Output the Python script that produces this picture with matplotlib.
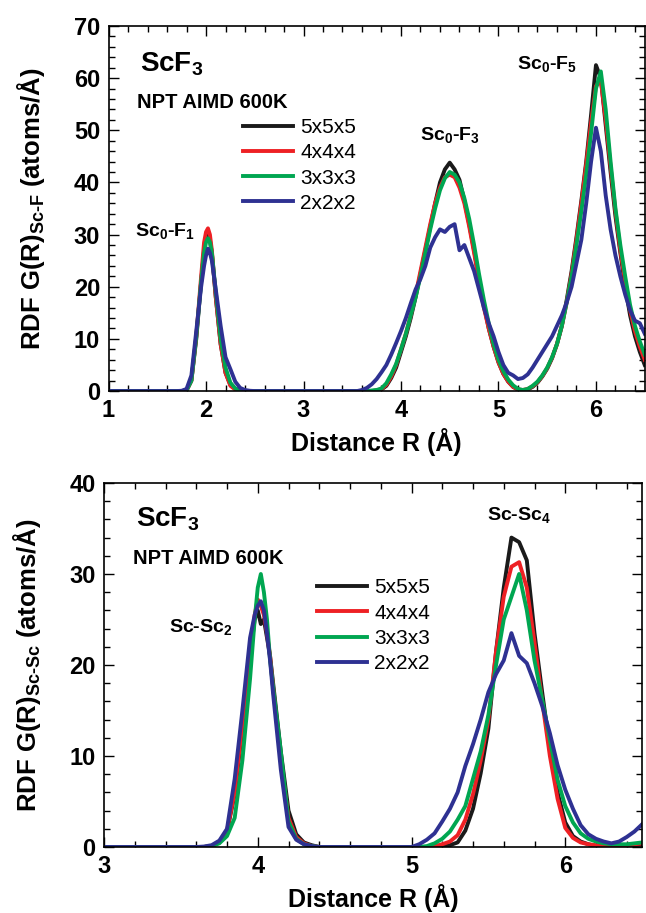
import matplotlib
matplotlib.use('Agg')
import matplotlib.pyplot as plt
from matplotlib.ticker import MultipleLocator

plt.rcParams['font.family'] = ['Liberation Sans', 'DejaVu Sans']
plt.rcParams['mathtext.fontset'] = 'custom'
plt.rcParams['mathtext.rm'] = 'Liberation Sans:bold'
plt.rcParams['mathtext.it'] = 'Liberation Sans:bold'
plt.rcParams['mathtext.bf'] = 'Liberation Sans:bold'

# supercell sizes and colours
cells = ['5x5x5', '4x4x4', '3x3x3', '2x2x2']
colors = ['#1a1a1a', '#ee2024', '#00a651', '#2e3192']

# ---- top panel: Sc-F RDF ----
r_scf = [1.0, 1.5, 1.7, 1.75, 1.8, 1.85, 1.9, 1.95, 1.98, 2.0, 2.02, 2.04, 2.06, 2.1, 2.15, 2.2, 2.25, 2.3, 2.35, 2.4,
         2.45, 2.5, 3.0, 3.5,
         3.55, 3.60, 3.65, 3.70, 3.75, 3.80, 3.85, 3.90, 3.95, 4.00,
         4.05, 4.10, 4.15, 4.20, 4.25, 4.30, 4.35, 4.40, 4.45, 4.50,
         4.55, 4.60, 4.65, 4.70, 4.75, 4.80, 4.85, 4.90, 4.95, 5.00,
         5.05, 5.10, 5.15, 5.20, 5.25, 5.30, 5.35, 5.40, 5.45, 5.50,
         5.55, 5.60, 5.65, 5.70, 5.75, 5.80, 5.85, 5.90, 5.95, 6.00,
         6.05, 6.10, 6.15, 6.20, 6.25, 6.30, 6.35, 6.40, 6.45, 6.50]

g_scf_5 = [0, 0, 0, 0, 0.1, 2, 10, 21, 27, 29.5, 30, 29, 26.5, 18, 9, 3.5, 1.2, 0.4, 0.1, 0,
           0, 0, 0, 0,
           0, 0, 0, 0, 0.1, 0.3, 1, 2.5, 4.5, 7.5,
           10.5, 14, 18, 22.5, 27, 31.5, 36, 40, 42.5, 43.8,
           42.5, 40.5, 36.5, 32, 27, 21.5, 16.5, 12, 8.5, 5.5,
           3.3, 1.8, 0.8, 0.3, 0.1, 0.3, 0.8, 1.6, 2.8, 4.3,
           6.3, 9, 12.5, 17.5, 23, 29.5, 36.5, 44, 53, 62.5,
           60, 51, 42, 33.5, 26.5, 20, 14.5, 10.5, 7.5, 5]
g_scf_4 = [0, 0, 0, 0, 0.1, 2, 10.5, 22, 28.5, 30.5, 31.2, 30, 27, 18, 9, 3.5, 1, 0.3, 0.1, 0,
           0, 0, 0, 0,
           0, 0, 0, 0, 0.1, 0.4, 1.2, 2.8, 5, 8,
           11, 14.5, 18.5, 23, 27.5, 32, 36, 39, 41, 41.5,
           41, 39, 36, 31.5, 26.5, 21, 16, 12, 8.5, 5.5,
           3.3, 1.8, 0.8, 0.3, 0.2, 0.4, 0.9, 1.7, 2.9, 4.4,
           6.4, 9, 12.5, 17, 22.5, 29, 36, 43.5, 51.5, 58.5,
           59.5, 52, 43, 34.5, 27, 21, 15.5, 11.5, 8.5, 6]
g_scf_3 = [0, 0, 0, 0, 0.1, 2, 10.5, 21, 26.5, 28.5, 29.3, 28.5, 26.5, 19, 10, 4.5, 1.6, 0.5, 0.1, 0,
           0, 0, 0, 0,
           0, 0, 0, 0.1, 0.2, 0.5, 1.5, 3.2, 5.2, 8,
           11, 14.5, 18, 22, 26.5, 31, 35, 38.5, 40.8, 42,
           41.5, 40, 37, 33, 28, 22.5, 17.5, 13, 9, 6,
           3.8, 2.2, 1.1, 0.4, 0.2, 0.4, 1, 1.8, 3, 4.5,
           6.5, 9, 12.5, 17, 22, 28, 34.5, 41.5, 49.5, 58,
           61.3, 54, 44, 35, 28, 22, 16.5, 12.5, 9.5, 7]
g_scf_2 = [0, 0, 0, 0.05, 0.4, 3, 11.5, 20, 24, 26, 27.3, 26.5, 25, 19.5, 12.5, 6.5, 4.2, 1.8, 0.6, 0.2,
           0.05, 0, 0, 0,
           0, 0.2, 0.6, 1.3, 2.3, 3.6, 5, 7, 9.2, 11.5,
           14, 16.8, 19.5, 21.5, 24, 27.5, 29.5, 31, 30.5, 31.5,
           32, 27, 28, 25.5, 23, 19.5, 16, 13, 10.5, 7.5,
           5, 3.5, 3, 2.3, 2.5, 3.2, 4.5, 6, 7.5, 9,
           10.5, 12.5, 14.5, 17, 20, 24.5, 29, 36, 44, 50.5,
           46, 37.5, 31, 26, 22, 18.5, 15.5, 13.5, 13, 11]

# ---- bottom panel: Sc-Sc RDF ----
r_scsc = [3.0, 3.5, 3.6, 3.65, 3.70, 3.75, 3.80, 3.85, 3.90, 3.95, 3.98, 4.00, 4.02, 4.04, 4.06, 4.08, 4.10,
          4.15, 4.20, 4.25, 4.30, 4.35, 4.40, 4.50, 4.60, 4.70, 4.80, 4.90, 4.95, 5.00, 5.05,
          5.10, 5.15, 5.20, 5.25, 5.30, 5.35, 5.40, 5.45, 5.50, 5.55, 5.60, 5.65, 5.70, 5.75, 5.80,
          5.85, 5.90, 5.95, 6.00, 6.05, 6.10, 6.15, 6.20, 6.25, 6.30, 6.35, 6.40, 6.45, 6.50]

g_scsc_5 = [0, 0, 0, 0, 0.1, 0.5, 1.7, 5.8, 13, 21, 25, 26, 24.5, 25, 23, 21, 18,
            10.5, 4, 1.4, 0.5, 0.2, 0, 0, 0, 0, 0, 0, 0, 0, 0,
            0, 0, 0.1, 0.2, 0.5, 1.8, 4.2, 8.1, 13, 21.5, 28.5, 34, 33.5, 31.5, 23.5,
            17, 10.8, 6, 2.7, 1.2, 0.6, 0.3, 0.1, 0.1, 0.1, 0.1, 0.1, 0.2, 0.3]
g_scsc_4 = [0, 0, 0, 0, 0.1, 0.5, 1.8, 6, 13.5, 21.5, 25.5, 27.2, 26.5, 25.5, 23.5, 21, 17.5,
            9.5, 3.2, 1.1, 0.4, 0.1, 0, 0, 0, 0, 0, 0, 0, 0, 0,
            0, 0.1, 0.3, 0.6, 1.3, 3, 5.8, 9.5, 14, 21.5, 27.5, 30.8, 31.3, 28.5, 22.5,
            16, 10, 5.3, 2.1, 1, 0.5, 0.3, 0.2, 0.2, 0.2, 0.2, 0.2, 0.3, 0.4]
g_scsc_3 = [0, 0, 0, 0, 0.1, 0.4, 1.2, 3.2, 9.5, 18.5, 25, 28.5, 30, 28, 25, 20.6, 17.5,
            10.5, 2.8, 0.9, 0.3, 0.1, 0, 0, 0, 0, 0, 0, 0, 0, 0,
            0.1, 0.4, 0.9, 1.7, 3, 4.5, 7.5, 10.5, 14.5, 20, 25, 27.5, 30, 26, 20.5,
            16.2, 11.8, 7.4, 4.5, 2.7, 1.5, 0.9, 0.6, 0.4, 0.3, 0.3, 0.3, 0.4, 0.5]
g_scsc_2 = [0, 0, 0, 0.05, 0.2, 0.7, 2, 7.5, 15, 23, 25.5, 26.5, 27, 26, 23.5, 20.5, 16.8,
            8.5, 2.2, 0.8, 0.3, 0.1, 0, 0, 0, 0, 0, 0, 0, 0, 0.3,
            0.8, 1.5, 2.8, 4.2, 6, 8.9, 11.3, 14, 17, 19, 20.5, 23.5, 21, 20.2, 18,
            15.5, 12.5, 9, 6.3, 4.2, 2.4, 1.4, 0.9, 0.6, 0.4, 0.6, 1.1, 1.7, 2.5]


def style_axes(ax, xmin, xmax, ymax, ymajor, yminor):
    ax.set_xlim(xmin, xmax)
    ax.set_ylim(0, ymax)
    ax.xaxis.set_major_locator(MultipleLocator(1))
    ax.xaxis.set_minor_locator(MultipleLocator(0.2))
    ax.yaxis.set_major_locator(MultipleLocator(ymajor))
    ax.yaxis.set_minor_locator(MultipleLocator(yminor))
    ax.tick_params(which='both', direction='in', top=True, right=True, width=1.0)
    ax.tick_params(which='major', length=7, labelsize=17, pad=6)
    ax.tick_params(which='minor', length=4)
    for lab in ax.get_xticklabels() + ax.get_yticklabels():
        lab.set_fontweight('bold')
    for sp in ax.spines.values():
        sp.set_linewidth(1.2)


fig = plt.figure(figsize=(6.46, 9.13), dpi=100)

# top panel
ax1 = fig.add_axes([0.168, 0.5717, 0.830, 0.3998])
for g, c, lab in zip([g_scf_5, g_scf_4, g_scf_3, g_scf_2], colors, cells):
    ax1.plot(r_scf, g, color=c, lw=2.8, label=lab)
style_axes(ax1, 1, 6.5, 70, 10, 2)
ax1.set_xlabel('Distance R (Å)', fontsize=18, fontweight='bold', labelpad=4)
ax1.set_ylabel(r'RDF G(R)$_{\mathrm{Sc}\text{-}\mathrm{F}}$ (atoms/Å)', fontsize=18.5, fontweight='bold', labelpad=19)
ax1.text(1.32, 61.2, 'ScF$_3$', fontsize=20, fontweight='bold')
ax1.text(1.29, 54.3, 'NPT AIMD 600K', fontsize=14.5, fontweight='bold')
ax1.text(1.27, 29.7, 'Sc$_0$-F$_1$', fontsize=14, fontweight='bold')
ax1.text(4.19, 48.1, 'Sc$_0$-F$_3$', fontsize=14, fontweight='bold')
ax1.text(5.19, 61.8, 'Sc$_0$-F$_5$', fontsize=14, fontweight='bold')
ax1.legend(loc='upper left', bbox_to_anchor=(0.251, 0.748), frameon=False, fontsize=15,
           handlelength=2.4, handletextpad=0.35, labelspacing=0.3, borderpad=0, borderaxespad=0)

# bottom panel
ax2 = fig.add_axes([0.161, 0.0723, 0.833, 0.3987])
for g, c, lab in zip([g_scsc_5, g_scsc_4, g_scsc_3, g_scsc_2], colors, cells):
    ax2.plot(r_scsc, g, color=c, lw=2.8, label=lab)
style_axes(ax2, 3, 6.5, 40, 10, 2)
ax2.set_xlabel('Distance R (Å)', fontsize=18, fontweight='bold', labelpad=4)
ax2.set_ylabel(r'RDF G(R)$_{\mathrm{Sc}\text{-}\mathrm{Sc}}$ (atoms/Å)', fontsize=18.5, fontweight='bold', labelpad=19)
ax2.text(3.21, 35.2, 'ScF$_3$', fontsize=20, fontweight='bold')
ax2.text(3.19, 31.1, 'NPT AIMD 600K', fontsize=14.5, fontweight='bold')
ax2.text(3.42, 23.6, 'Sc-Sc$_2$', fontsize=14, fontweight='bold')
ax2.text(5.49, 35.9, 'Sc-Sc$_4$', fontsize=14, fontweight='bold')
ax2.legend(loc='upper left', bbox_to_anchor=(0.396, 0.738), frameon=False, fontsize=15,
           handlelength=2.4, handletextpad=0.35, labelspacing=0.3, borderpad=0, borderaxespad=0)

fig.savefig('out.png', dpi=100)
